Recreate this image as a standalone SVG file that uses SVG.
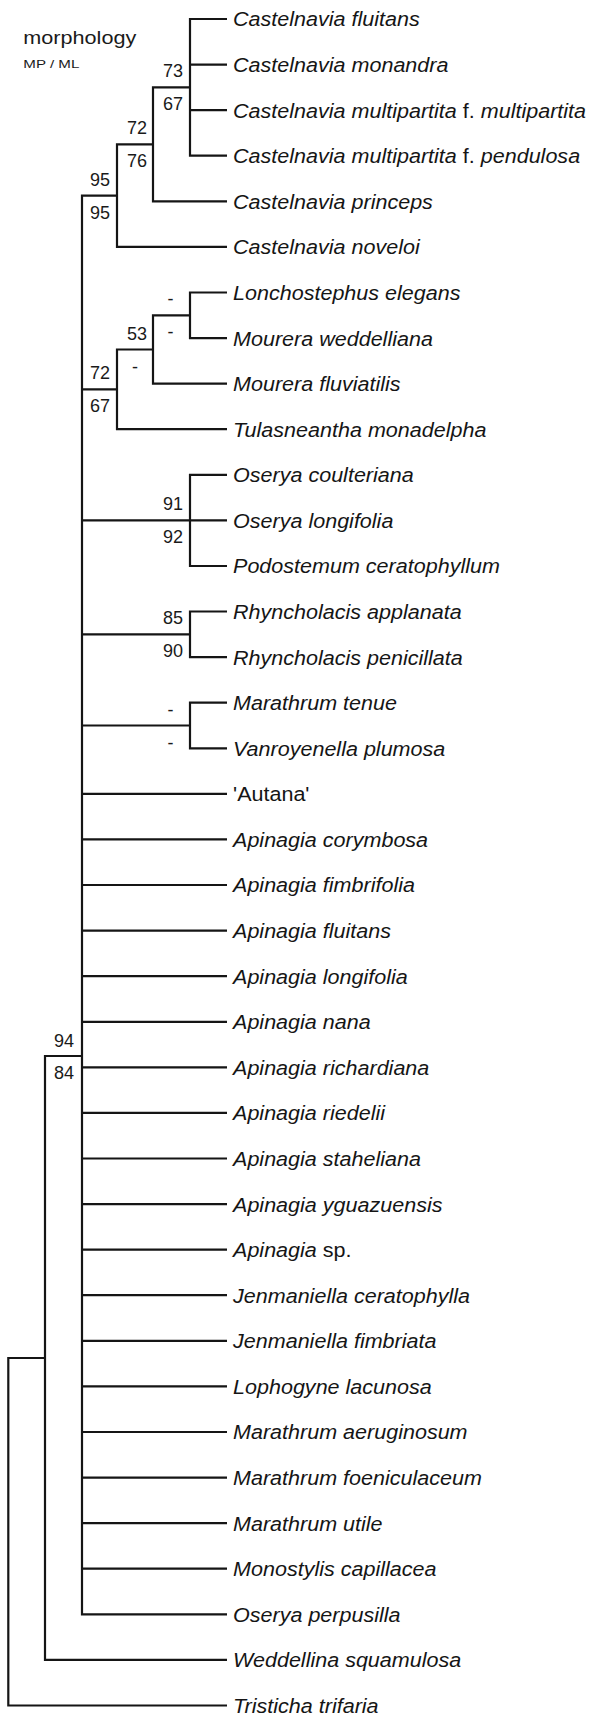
<svg xmlns="http://www.w3.org/2000/svg" width="590" height="1716" viewBox="0 0 590 1716">
<style>
.br{fill:none;stroke:#151515;stroke-width:2.2;stroke-linejoin:miter;stroke-linecap:butt}
.leaf{font-family:"Liberation Sans",Arial,sans-serif;font-size:19.5px;font-style:italic;fill:#151515}
.up{font-style:normal}
.sup{font-family:"Liberation Sans",Arial,sans-serif;font-size:18px;fill:#1a1a1a;text-anchor:end}
.dash{text-anchor:middle}
.ttl{font-family:"Liberation Sans",Arial,sans-serif;fill:#1a1a1a}
</style>
<rect width="590" height="1716" fill="#fff"/>
<g id="title">
<text class="ttl" x="23.3" y="44" font-size="17.5" textLength="113" lengthAdjust="spacingAndGlyphs">morphology</text>
<text class="ttl" x="23.3" y="67.7" font-size="11.6" textLength="56" lengthAdjust="spacingAndGlyphs">MP / ML</text>
</g>
<g id="connectors">
<path class="br" d="M227,19 H190 V155.7 H227 M190,64.6 H227 M190,110.2 H227"/>
<path class="br" d="M190,87.4 H153 V201.3 H227"/>
<path class="br" d="M153,144.4 H117 V246.9 H227"/>
<path class="br" d="M117,195.6 H82 V1614.3 H227"/>
<path class="br" d="M227,292.5 H190 V338.1 H227"/>
<path class="br" d="M190,315.3 H153 V383.6 H227"/>
<path class="br" d="M153,349.5 H117 V429.2 H227 M82,389.4 H117"/>
<path class="br" d="M227,474.8 H190 V566 H227 M82,520.4 H227"/>
<path class="br" d="M227,611.5 H190 V657.1 H227 M82,634.3 H190"/>
<path class="br" d="M227,702.7 H190 V748.3 H227 M82,725.5 H190"/>
<path class="br" d="M82,793.9 H227 M82,839.4 H227 M82,885 H227 M82,930.6 H227 M82,976.2 H227 M82,1021.8 H227 M82,1067.3 H227 M82,1112.9 H227 M82,1158.5 H227 M82,1204.1 H227 M82,1249.7 H227 M82,1295.2 H227 M82,1340.8 H227 M82,1386.4 H227 M82,1432 H227 M82,1477.6 H227 M82,1523.1 H227 M82,1568.7 H227"/>
<path class="br" d="M82,1056 H45 V1659.9 H227"/>
<path class="br" d="M45,1358 H8.3 V1705.5 H227"/>
</g>
<g id="support">
<g id="n-castel4"><text class="sup" x="183" y="77.4">73</text><text class="sup" x="183" y="110.4">67</text></g>
<g id="n-castel5"><text class="sup" x="147" y="134.4">72</text><text class="sup" x="147" y="167.4">76</text></g>
<g id="n-castel6"><text class="sup" x="110" y="185.6">95</text><text class="sup" x="110" y="218.6">95</text></g>
<g id="n-lonch"><text class="sup dash" x="170.5" y="305.3">-</text><text class="sup dash" x="170.5" y="338.3">-</text></g>
<g id="n-mourera"><text class="sup" x="147" y="339.5">53</text><text class="sup dash" x="135" y="372.5">-</text></g>
<g id="n-tulas"><text class="sup" x="110" y="379.4">72</text><text class="sup" x="110" y="412.4">67</text></g>
<g id="n-oserya"><text class="sup" x="183" y="510.4">91</text><text class="sup" x="183" y="543.4">92</text></g>
<g id="n-rhyn"><text class="sup" x="183" y="624.3">85</text><text class="sup" x="183" y="657.3">90</text></g>
<g id="n-marvan"><text class="sup dash" x="170.5" y="715.5">-</text><text class="sup dash" x="170.5" y="748.5">-</text></g>
<g id="n-backbone"><text class="sup" x="74" y="1046.5">94</text><text class="sup" x="74" y="1079.3">84</text></g>
</g>
<g id="leaves">
<g id="t01"><text class="leaf" x="210.9" y="26.5" transform="scale(1.105 1)">Castelnavia fluitans</text></g>
<g id="t02"><text class="leaf" x="210.9" y="72.1" transform="scale(1.105 1)">Castelnavia monandra</text></g>
<g id="t03"><text class="leaf" x="210.9" y="117.7" transform="scale(1.105 1)">Castelnavia multipartita <tspan class="up">f.</tspan> multipartita</text></g>
<g id="t04"><text class="leaf" x="210.9" y="163.2" transform="scale(1.105 1)">Castelnavia multipartita <tspan class="up">f.</tspan> pendulosa</text></g>
<g id="t05"><text class="leaf" x="210.9" y="208.8" transform="scale(1.105 1)">Castelnavia princeps</text></g>
<g id="t06"><text class="leaf" x="210.9" y="254.4" transform="scale(1.105 1)">Castelnavia noveloi</text></g>
<g id="t07"><text class="leaf" x="210.9" y="300" transform="scale(1.105 1)">Lonchostephus elegans</text></g>
<g id="t08"><text class="leaf" x="210.9" y="345.6" transform="scale(1.105 1)">Mourera weddelliana</text></g>
<g id="t09"><text class="leaf" x="210.9" y="391.1" transform="scale(1.105 1)">Mourera fluviatilis</text></g>
<g id="t10"><text class="leaf" x="210.9" y="436.7" transform="scale(1.105 1)">Tulasneantha monadelpha</text></g>
<g id="t11"><text class="leaf" x="210.9" y="482.3" transform="scale(1.105 1)">Oserya coulteriana</text></g>
<g id="t12"><text class="leaf" x="210.9" y="527.9" transform="scale(1.105 1)">Oserya longifolia</text></g>
<g id="t13"><text class="leaf" x="210.9" y="573.5" transform="scale(1.105 1)">Podostemum ceratophyllum</text></g>
<g id="t14"><text class="leaf" x="210.9" y="619" transform="scale(1.105 1)">Rhyncholacis applanata</text></g>
<g id="t15"><text class="leaf" x="210.9" y="664.6" transform="scale(1.105 1)">Rhyncholacis penicillata</text></g>
<g id="t16"><text class="leaf" x="210.9" y="710.2" transform="scale(1.105 1)">Marathrum tenue</text></g>
<g id="t17"><text class="leaf" x="210.9" y="755.8" transform="scale(1.105 1)">Vanroyenella plumosa</text></g>
<g id="t18"><text class="leaf up" x="210.9" y="801.4" transform="scale(1.105 1)">'Autana'</text></g>
<g id="t19"><text class="leaf" x="210.9" y="846.9" transform="scale(1.105 1)">Apinagia corymbosa</text></g>
<g id="t20"><text class="leaf" x="210.9" y="892.5" transform="scale(1.105 1)">Apinagia fimbrifolia</text></g>
<g id="t21"><text class="leaf" x="210.9" y="938.1" transform="scale(1.105 1)">Apinagia fluitans</text></g>
<g id="t22"><text class="leaf" x="210.9" y="983.7" transform="scale(1.105 1)">Apinagia longifolia</text></g>
<g id="t23"><text class="leaf" x="210.9" y="1029.3" transform="scale(1.105 1)">Apinagia nana</text></g>
<g id="t24"><text class="leaf" x="210.9" y="1074.8" transform="scale(1.105 1)">Apinagia richardiana</text></g>
<g id="t25"><text class="leaf" x="210.9" y="1120.4" transform="scale(1.105 1)">Apinagia riedelii</text></g>
<g id="t26"><text class="leaf" x="210.9" y="1166" transform="scale(1.105 1)">Apinagia staheliana</text></g>
<g id="t27"><text class="leaf" x="210.9" y="1211.6" transform="scale(1.105 1)">Apinagia yguazuensis</text></g>
<g id="t28"><text class="leaf" x="210.9" y="1257.2" transform="scale(1.105 1)">Apinagia <tspan class="up">sp.</tspan></text></g>
<g id="t29"><text class="leaf" x="210.9" y="1302.7" transform="scale(1.105 1)">Jenmaniella ceratophylla</text></g>
<g id="t30"><text class="leaf" x="210.9" y="1348.3" transform="scale(1.105 1)">Jenmaniella fimbriata</text></g>
<g id="t31"><text class="leaf" x="210.9" y="1393.9" transform="scale(1.105 1)">Lophogyne lacunosa</text></g>
<g id="t32"><text class="leaf" x="210.9" y="1439.5" transform="scale(1.105 1)">Marathrum aeruginosum</text></g>
<g id="t33"><text class="leaf" x="210.9" y="1485.1" transform="scale(1.105 1)">Marathrum foeniculaceum</text></g>
<g id="t34"><text class="leaf" x="210.9" y="1530.6" transform="scale(1.105 1)">Marathrum utile</text></g>
<g id="t35"><text class="leaf" x="210.9" y="1576.2" transform="scale(1.105 1)">Monostylis capillacea</text></g>
<g id="t36"><text class="leaf" x="210.9" y="1621.8" transform="scale(1.105 1)">Oserya perpusilla</text></g>
<g id="t37"><text class="leaf" x="210.9" y="1667.4" transform="scale(1.105 1)">Weddellina squamulosa</text></g>
<g id="t38"><text class="leaf" x="210.9" y="1713" transform="scale(1.105 1)">Tristicha trifaria</text></g>
</g>
</svg>
